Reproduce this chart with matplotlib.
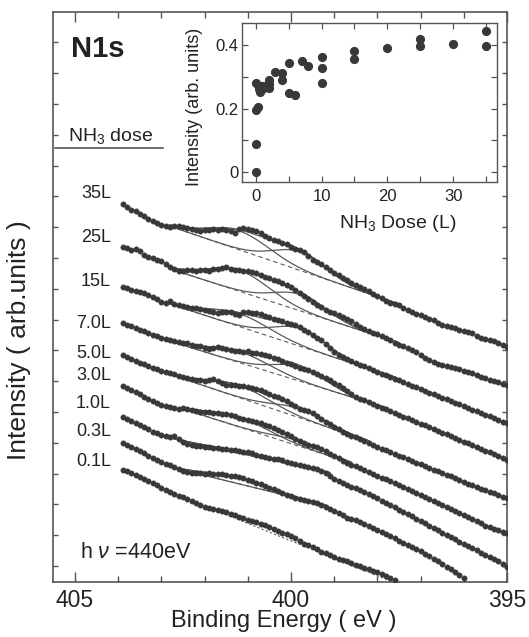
import numpy as np
import matplotlib
matplotlib.use('Agg')
import matplotlib.pyplot as plt
from matplotlib.ticker import MultipleLocator, FixedLocator, NullFormatter
from matplotlib.lines import Line2D

plt.rcParams['font.family'] = ['Liberation Sans', 'DejaVu Sans']
plt.rcParams['mathtext.fontset'] = 'custom'
plt.rcParams['mathtext.rm'] = 'Liberation Sans'
plt.rcParams['mathtext.it'] = 'Liberation Sans:italic'

# ---------------- data ----------------
dose_labels = ['35L', '25L', '15L', '7.0L', '5.0L', '3.0L', '1.0L', '0.3L', '0.1L']
binding_energy = np.round(np.arange(403.9, 394.95, -0.1), 1)   # eV grid of the spectra

s35 = [378, 375, 372, 371, 368, 366, 363, 361, 359, 357, 356, 355, 356, 356, 355, 354, 353, 352, 351, 352,
       352, 353, 352, 353, 352, 351, 349, 353, 354, 353, 352, 351, 349, 346, 344, 342, 341, 339, 338, 335,
       333, 332, 330, 326, 322, 320, 318, 315, 312, 309, 307, 304, 302, 299, 297, 295, 293, 291, 288, 286,
       284, 281, 279, 278, 277, 274, 272, 270, 268, 267, 265, 263, 262, 259, 257, 256, 255, 254, 252, 251,
       250, 249, 246, 244, 243, 242, 241, 239, 237, 235]
s25 = [335, 334, 332, 333, 331, 327, 325, 324, 322, 321, 318, 315, 313, 311, 311, 312, 312, 311, 312, 312,
       311, 313, 313, 314, 315, 313, 312, 312, 311, 311, 310, 309, 307, 305, 304, 302, 301, 299, 297, 295,
       292, 289, 286, 283, 280, 277, 275, 272, 270, 269, 267, 265, 263, 261, 258, 255, 253, 251, 249, 248,
       246, 244, 242, 239, 237, 236, 234, 232, 230, 227, 224, 222, 220, 218, 217, 216, 215, 214, 213, 211,
       210, 209, 207, 205, 204, 202, 201, 200, 198, 197]
s15 = [295, 294, 292, 291, 290, 289, 287, 285, 283, 280, 279, 281, 278, 277, 276, 275, 274, 274, 273, 272,
       271, 270, 269, 270, 270, 270, 268, 267, 270, 270, 269, 269, 268, 266, 265, 263, 262, 261, 259, 258,
       257, 255, 252, 250, 247, 244, 242, 238, 234, 230, 227, 225, 223, 221, 219, 217, 216, 214, 212, 210,
       208, 207, 205, 203, 202, 200, 198, 196, 195, 193, 191, 189, 188, 186, 184, 183, 181, 179, 178, 176,
       174, 172, 171, 169, 167, 166, 164, 162, 160, 159]
s7 = [259, 257, 256, 254, 252, 251, 249, 247, 246, 244, 243, 242, 241, 240, 239, 239, 237, 236, 236, 234,
      233, 234, 235, 234, 233, 232, 231, 231, 230, 231, 229, 229, 228, 227, 226, 224, 223, 221, 219, 218,
      216, 214, 213, 212, 210, 208, 206, 204, 202, 199, 197, 194, 191, 188, 185, 183, 182, 180, 178, 176,
      174, 173, 171, 169, 167, 165, 164, 162, 160, 158, 157, 155, 153, 151, 149, 148, 146, 144, 142, 140,
      139, 137, 135, 133, 131, 130, 128, 126, 124, 122]
s5 = [227, 225, 223, 221, 219, 218, 216, 214, 213, 211, 210, 209, 208, 206, 205, 204, 203, 202, 202, 201,
      202, 203, 201, 199, 197, 197, 197, 196, 196, 195, 194, 193, 192, 190, 188, 186, 185, 183, 181, 178,
      176, 173, 172, 171, 169, 166, 163, 160, 158, 155, 153, 150, 148, 146, 145, 143, 141, 139, 137, 135,
      133, 132, 130, 128, 126, 125, 123, 121, 119, 118, 116, 114, 112, 111, 109, 107, 106, 104, 102, 100,
      98, 97, 95, 93, 92, 90, 89, 87, 85, 84]
s3 = [196, 194, 192, 190, 188, 185, 183, 181, 179, 177, 176, 175, 174, 173, 174, 173, 172, 171, 170, 170,
      170, 169, 169, 168, 168, 167, 166, 164, 163, 162, 161, 160, 159, 157, 156, 154, 152, 150, 148, 146,
      143, 141, 139, 137, 136, 135, 133, 131, 128, 126, 124, 121, 119, 117, 116, 114, 112, 110, 108, 106,
      104, 103, 101, 99, 97, 95, 93, 91, 89, 87, 85, 83, 81, 79, 77, 75, 73, 71, 69, 67,
      65, 63, 61, 59, 56, 55, 53, 52, 50, 49]
s1 = [165, 163, 161, 159, 157, 155, 153, 150, 149, 147, 146, 145, 146, 143, 140, 138, 137, 136, 136, 135,
      135, 134, 134, 133, 133, 132, 132, 131, 130, 130, 129, 127, 126, 125, 124, 123, 123, 122, 120, 119,
      118, 117, 116, 115, 114, 113, 111, 109, 106, 103, 101, 99, 97, 95, 94, 92, 90, 88, 86, 84,
      81, 79, 77, 75, 72, 70, 68, 66, 63, 61, 59, 56, 54, 52, 49, 47, 45, 43, 40, 38,
      36, 34, 32, 29, 27, 25, 23, 21, 18, 15]
s03 = [139, 137, 135, 133, 131, 129, 126, 124, 122, 120, 118, 117, 115, 113, 111, 110, 109, 109, 109, 108,
       109, 108, 108, 108, 107, 106, 106, 105, 104, 102, 101, 99, 98, 96, 94, 93, 91, 89, 87, 86,
       84, 83, 82, 81, 80, 79, 77, 75, 73, 71, 69, 67, 64, 63, 62, 60, 58, 56, 54, 52,
       50, 48, 46, 44, 41, 39, 37, 35, 33, 31, 28, 26, 23, 21, 18, 15, 13, 10, 7, 4]
s01 = [112, 111, 109, 107, 105, 103, 101, 99, 97, 94, 92, 90, 88, 86, 85, 83, 81, 79, 77, 75,
       74, 73, 72, 71, 70, 68, 67, 65, 64, 62, 61, 60, 58, 57, 55, 53, 51, 49, 48, 46,
       44, 41, 38, 37, 35, 33, 30, 29, 27, 25, 23, 22, 21, 19, 17, 16, 14, 13, 11, 10,
       8, 6, 4, 2]
spectra = [s35, s25, s15, s7, s5, s3, s1, s03, s01]

fit_high = [402.8, 402.7, 402.9, 402.9, 402.9, 402.5, 402.7, 402.8]
fit_low = [397.5, 397.5, 397.6, 397.8, 398.2, 398.6, 399.1, 399.2]
peak_centers = [401.2, 399.8]
peak_widths = [0.7, 0.6]
bg_only = {'0.1L': (402.4, 397.7)}

# inset: N1s intensity vs NH3 dose
inset_dose = [0, 0, 0, 0.3, 0, 0.5, 0.7, 1.0, 1.0, 1.5, 2.0, 2.0, 2.0, 3.0, 4.0, 4.0, 5.0, 5.0, 6.0,
              7.0, 8.0, 10, 10, 10, 15, 15, 20, 25, 25, 30, 35, 35]
inset_int = [0.0, 0.089, 0.196, 0.204, 0.279, 0.262, 0.253, 0.272, 0.262, 0.270, 0.290, 0.276, 0.265,
             0.316, 0.311, 0.290, 0.342, 0.248, 0.243, 0.349, 0.334, 0.363, 0.326, 0.281, 0.382, 0.356,
             0.391, 0.418, 0.398, 0.403, 0.445, 0.397]

# ---------------- figure ----------------
W, H = 529, 637
fig = plt.figure(figsize=(W / 100, H / 100), dpi=100)

def fx(px):
    return px / W

def fy(py):
    return 1 - py / H

FRAME = '#555555'
DOT = '#383838'
LINE = '#5a5a5a'
TXT = '#222222'

ax = fig.add_axes([fx(53), fy(582), fx(507) - fx(53), fy(12) - fy(582)])
ax.set_xlim(405.51, 395.0)
ax.set_ylim(0, 570)

for name, y in zip(dose_labels, spectra):
    e = binding_energy[:len(y)]
    ax.plot(e, y, 'o', ms=3.9, color=DOT, mec=DOT, mew=0.3, zorder=3, clip_on=True)

def gauss(E, c, w):
    return np.exp(-0.5 * ((E - c) / w) ** 2)

for name, y, hi, lo in zip(dose_labels[:8], spectra[:8], fit_high, fit_low):
    e = binding_energy[:len(y)]
    d = np.asarray(y, float)
    m = (e <= hi + 1e-6) & (e >= lo - 1e-6)
    ee, dd = e[m], d[m]
    yl, yr = dd[:3].mean(), dd[-3:].mean()
    bk = lambda E: yr + (yl - yr) * (E - lo) / (hi - lo)
    A = np.vstack([gauss(ee, peak_centers[0], peak_widths[0]),
                   gauss(ee, peak_centers[1], peak_widths[1])]).T
    amp, *_ = np.linalg.lstsq(A, dd - bk(ee), rcond=None)
    amp = np.clip(amp, 0, None)
    E = np.linspace(hi, lo, 300)
    b = bk(E)
    p1 = amp[0] * gauss(E, peak_centers[0], peak_widths[0])
    p2 = amp[1] * gauss(E, peak_centers[1], peak_widths[1])
    ax.plot(E, b, ls=(0, (4, 3)), color=LINE, lw=0.8, zorder=2)
    ax.plot(E, b + p1, color=LINE, lw=0.9, zorder=2)
    ax.plot(E, b + p2, color=LINE, lw=0.9, zorder=2)
    ax.plot(E, b + p1 + p2, color=LINE, lw=0.9, zorder=2)

for name, (hi, lo) in bg_only.items():
    y = spectra[dose_labels.index(name)]
    e = binding_energy[:len(y)]
    d = np.asarray(y, float)
    yl = np.interp(hi, e[::-1], d[::-1])
    yr = np.interp(lo, e[::-1], d[::-1])
    ax.plot([hi, lo], [yl, yr - 3], ls=(0, (2, 2)), color=LINE, lw=0.8, zorder=2)

# axes styling
for sp in ax.spines.values():
    sp.set_color(FRAME)
    sp.set_linewidth(1.2)
ax.xaxis.set_major_locator(FixedLocator([405, 400, 395]))
ax.xaxis.set_minor_locator(MultipleLocator(1))
ax.yaxis.set_major_locator(FixedLocator([16 + 30.8 * k for k in range(18)]))
ax.yaxis.set_major_formatter(NullFormatter())
ax.tick_params(axis='x', which='major', direction='in', length=7, width=1, color=FRAME,
               top=True, labelsize=16.5, pad=5, labelcolor=TXT)
ax.tick_params(axis='x', which='minor', direction='in', length=4.5, width=1, color=FRAME, top=True)
ax.tick_params(axis='y', which='major', direction='in', length=3.5, width=1, color=FRAME, right=True)
ax.set_xticklabels(['405', '400', '395'])

fig.text(fx(284), fy(621), 'Binding Energy ( eV )', ha='center', va='center', fontsize=17, color=TXT)
fig.text(fx(19), fy(340), 'Intensity ( arb.units )', ha='center', va='center', rotation=90,
         fontsize=19, color=TXT)

fig.text(fx(71), fy(49), 'N1s', ha='left', va='center', fontsize=21, fontweight='bold', color=TXT)
fig.text(fx(68), fy(141), r'NH$_3$ dose', ha='left', va='baseline', fontsize=14, color=TXT)
fig.add_artist(Line2D([fx(55), fx(163)], [fy(148), fy(148)], color=FRAME, lw=1.2))

label_y = [194, 237, 282, 323, 353, 375, 403, 432, 462]
for name, py in zip(dose_labels, label_y):
    fig.text(fx(111), fy(py), name, ha='right', va='center', fontsize=13, color=TXT)

fig.text(fx(80), fy(552), r'h $\nu$ =440eV', ha='left', va='center', fontsize=15.5, color=TXT)

# ---------------- inset ----------------
ia = fig.add_axes([fx(242.3), fy(181.7), fx(496.7) - fx(242.3), fy(22.7) - fy(181.7)])
ia.set_xlim(-2.03, 36.6)
ia.set_ylim(-0.0295, 0.4697)
ia.plot(inset_dose, inset_int, 'o', ms=5.6, color=DOT, mec=DOT, zorder=3)
for sp in ia.spines.values():
    sp.set_color(FRAME)
    sp.set_linewidth(1.0)
ia.xaxis.set_major_locator(FixedLocator([0, 10, 20, 30]))
ia.xaxis.set_minor_locator(FixedLocator([5, 15, 25, 35]))
ia.yaxis.set_major_locator(FixedLocator([0, 0.2, 0.4]))
ia.yaxis.set_minor_locator(FixedLocator([0.1, 0.3]))
ia.set_yticklabels(['0', '0.2', '0.4'])
ia.tick_params(which='both', direction='in', top=True, right=True, color=FRAME, width=0.9)
ia.tick_params(which='major', length=4.5, labelsize=12, labelcolor=TXT)
ia.tick_params(which='minor', length=4.5)
ia.tick_params(axis='x', pad=5)
ia.tick_params(axis='y', pad=3)
ia.set_xlabel(r'NH$_3$ Dose (L)', fontsize=14, color=TXT)
ia.xaxis.set_label_coords((398 - 242.3) / (496.7 - 242.3), -0.2)
ia.set_ylabel('Intensity (arb. units)', fontsize=13, color=TXT)
ia.yaxis.set_label_coords(-0.155, 0.47)

fig.savefig('out.png', dpi=100)
